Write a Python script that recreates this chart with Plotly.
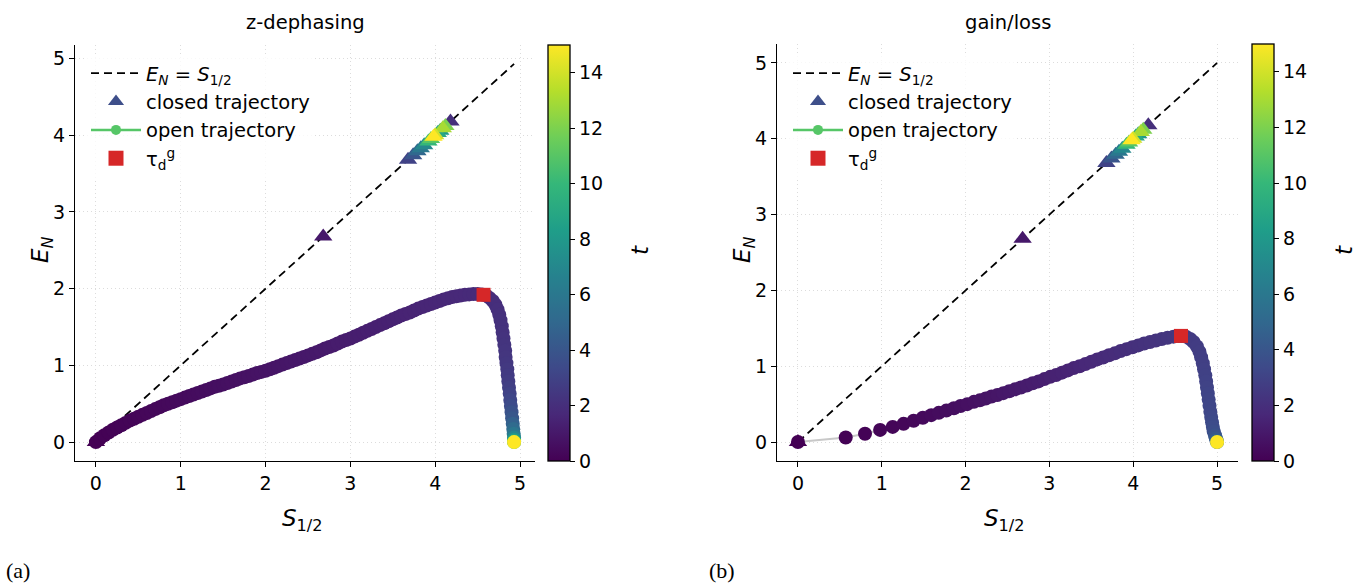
import plotly.graph_objects as go

# ---------------- data ----------------
# closed trajectory (same for both panels)
closed_t = [0, 1, 2, 3, 4, 5, 6, 7, 8, 9, 10, 11, 12, 13, 14, 15]
closed_S = [0.0, 2.68, 4.18, 3.68, 3.74, 3.79, 3.83, 3.87, 4.06, 4.03, 3.92, 3.95, 4.12, 4.09, 4.0, 3.98]

# panel (a) z-dephasing open trajectory
a_S = [0.0, 0.05, 0.10, 0.15, 0.20, 0.25, 0.30, 0.35, 0.40, 0.45, 0.50, 0.55, 0.60, 0.65, 0.70,
       0.75, 0.80, 0.85, 0.90, 0.95, 1.00, 1.05, 1.10, 1.15, 1.20, 1.25, 1.30, 1.35, 1.40, 1.45,
       1.50, 1.55, 1.60, 1.65, 1.70, 1.75, 1.80, 1.85, 1.90, 1.95, 2.00, 2.05, 2.10, 2.15, 2.20,
       2.25, 2.30, 2.35, 2.40, 2.45, 2.50, 2.55, 2.60, 2.65, 2.70, 2.75, 2.80, 2.85, 2.90, 2.95,
       3.00, 3.05, 3.10, 3.15, 3.20, 3.25, 3.30, 3.35, 3.40, 3.45, 3.50, 3.55, 3.60, 3.65, 3.70,
       3.75, 3.80, 3.85, 3.90, 3.95, 4.00, 4.05, 4.10, 4.15, 4.20, 4.25, 4.30, 4.35, 4.40, 4.45,
       4.50, 4.55,
       4.60, 4.64, 4.68, 4.71, 4.735, 4.755, 4.77, 4.785, 4.795, 4.805,
       4.815, 4.825, 4.83, 4.84, 4.85, 4.855, 4.862, 4.87, 4.878, 4.885,
       4.892, 4.90, 4.907, 4.914, 4.92, 4.925, 4.93, 4.93, 4.93, 4.93, 4.93]
a_E = [0.0, 0.05, 0.09, 0.125, 0.16, 0.19, 0.22, 0.25, 0.28, 0.305, 0.33, 0.355, 0.38, 0.405, 0.43,
       0.455, 0.48, 0.50, 0.52, 0.54, 0.56, 0.58, 0.60, 0.62, 0.64, 0.66, 0.68, 0.70, 0.72, 0.735,
       0.75, 0.77, 0.79, 0.81, 0.83, 0.845, 0.86, 0.88, 0.90, 0.915, 0.93, 0.95, 0.97, 0.99, 1.01,
       1.03, 1.05, 1.07, 1.09, 1.11, 1.13, 1.15, 1.17, 1.195, 1.22, 1.24, 1.26, 1.285, 1.31, 1.33,
       1.35, 1.375, 1.40, 1.425, 1.45, 1.475, 1.50, 1.525, 1.55, 1.575, 1.60, 1.625, 1.65, 1.67, 1.69,
       1.715, 1.74, 1.76, 1.78, 1.80, 1.82, 1.84, 1.86, 1.875, 1.89, 1.90, 1.91, 1.92, 1.925, 1.93,
       1.93, 1.925,
       1.91, 1.88, 1.84, 1.79, 1.73, 1.66, 1.59, 1.51, 1.43, 1.35,
       1.27, 1.19, 1.11, 1.03, 0.95, 0.87, 0.79, 0.71, 0.63, 0.55,
       0.47, 0.39, 0.31, 0.24, 0.17, 0.11, 0.06, 0.03, 0.01, 0.0, 0.0]
a_t = [0.0, 0.02, 0.04, 0.06, 0.08, 0.10, 0.12, 0.14, 0.16, 0.18, 0.20, 0.22, 0.24, 0.26, 0.28,
       0.30, 0.32, 0.34, 0.36, 0.38, 0.40, 0.42, 0.44, 0.46, 0.48, 0.50, 0.52, 0.54, 0.56, 0.58,
       0.60, 0.62, 0.64, 0.66, 0.68, 0.70, 0.72, 0.74, 0.76, 0.78, 0.80, 0.82, 0.84, 0.86, 0.88,
       0.90, 0.92, 0.94, 0.96, 0.98, 1.00, 1.02, 1.04, 1.06, 1.08, 1.10, 1.12, 1.14, 1.16, 1.18,
       1.20, 1.22, 1.24, 1.26, 1.28, 1.30, 1.32, 1.34, 1.36, 1.38, 1.40, 1.42, 1.44, 1.46, 1.48,
       1.50, 1.52, 1.54, 1.56, 1.58, 1.60, 1.62, 1.64, 1.66, 1.68, 1.70, 1.72, 1.74, 1.76, 1.78,
       1.80, 1.82,
       1.86, 1.90, 1.94, 1.98, 2.02, 2.06, 2.10, 2.14, 2.18, 2.22,
       2.27, 2.32, 2.38, 2.44, 2.50, 2.60, 2.70, 2.85, 3.00, 3.20,
       3.50, 3.80, 4.10, 4.60, 5.20, 5.90, 6.80, 7.80, 9.20, 11.0, 15.0]
a_tau = (4.57, 1.92)

# panel (b) gain/loss open trajectory
b_S = [0.0, 0.57, 0.80, 0.98, 1.13, 1.26, 1.38, 1.49, 1.59, 1.68, 1.77, 1.86, 1.94, 2.02, 2.10,
       2.17, 2.24, 2.31, 2.38, 2.45, 2.52, 2.59, 2.66, 2.73, 2.80, 2.87, 2.94, 3.01, 3.08, 3.15,
       3.22, 3.29, 3.36, 3.43, 3.50, 3.57, 3.64, 3.71, 3.78, 3.85, 3.92, 3.99, 4.06, 4.13, 4.20,
       4.27, 4.34, 4.41, 4.48, 4.54, 4.58,
       4.63, 4.68, 4.72, 4.76, 4.79, 4.81, 4.83, 4.845, 4.86, 4.87, 4.88, 4.89, 4.90, 4.91, 4.92,
       4.93, 4.94, 4.95, 4.96, 4.975, 4.985, 4.995, 5.0, 5.0]
b_E = [0.0, 0.06, 0.11, 0.16, 0.20, 0.24, 0.28, 0.32, 0.355, 0.385, 0.415, 0.445, 0.475, 0.50, 0.53,
       0.55, 0.575, 0.60, 0.62, 0.645, 0.67, 0.695, 0.72, 0.745, 0.775, 0.80, 0.83, 0.86, 0.885, 0.915,
       0.945, 0.975, 1.0, 1.03, 1.06, 1.09, 1.115, 1.145, 1.17, 1.20, 1.225, 1.25, 1.275, 1.30, 1.32,
       1.34, 1.36, 1.375, 1.39, 1.40, 1.40,
       1.39, 1.36, 1.32, 1.26, 1.19, 1.12, 1.04, 0.96, 0.88, 0.80, 0.72, 0.64, 0.56, 0.48, 0.40,
       0.33, 0.26, 0.20, 0.14, 0.09, 0.05, 0.02, 0.0, 0.0]
b_t = [0.0, 0.05, 0.10, 0.15, 0.20, 0.25, 0.30, 0.35, 0.40, 0.45, 0.50, 0.55, 0.60, 0.65, 0.70,
       0.75, 0.80, 0.85, 0.90, 0.95, 1.00, 1.05, 1.10, 1.15, 1.20, 1.25, 1.30, 1.35, 1.40, 1.45,
       1.50, 1.55, 1.60, 1.65, 1.70, 1.75, 1.80, 1.85, 1.90, 1.95, 2.00, 2.05, 2.10, 2.15, 2.20,
       2.25, 2.30, 2.35, 2.40, 2.45, 2.50,
       2.55, 2.60, 2.65, 2.70, 2.75, 2.80, 2.85, 2.90, 2.95, 3.00, 3.05, 3.10, 3.15, 3.20, 3.25,
       3.30, 3.40, 3.50, 3.60, 3.80, 4.10, 4.60, 6.00, 15.0]
b_tau = (4.57, 1.40)

diag_a = [0.0, 4.93]
diag_b = [0.0, 5.0]

titles = ["z-dephasing", "gain/loss"]
panel_labels = ["(a)", "(b)"]
cbar_ticks = [0, 2, 4, 6, 8, 10, 12, 14]
axis_ticks = [0, 1, 2, 3, 4, 5]

# ---------------- layout constants ----------------
W, H = 1369, 584
FONT = "DejaVu Sans"
TMIN, TMAX = 0, 15

def px(x):
    return x / W

def py(y):
    return 1 - y / H

panels = [
    dict(xd=(75, 535), yd=(45, 461), xr=[-0.2465, 5.1765], yr=[-0.2465, 5.1765],
         cb_x=548, S=a_S, E=a_E, t=a_t, tau=a_tau, diag=diag_a, leg_x=86),
    dict(xd=(777, 1238), yd=(44, 461), xr=[-0.25, 5.25], yr=[-0.25, 5.25],
         cb_x=1252, S=b_S, E=b_E, t=b_t, tau=b_tau, diag=diag_b, leg_x=788),
]

fig = go.Figure()
annotations = []
layout_axes = {}

for i, p in enumerate(panels):
    sfx = "" if i == 0 else str(i + 1)
    xa, ya = "x" + sfx, "y" + sfx
    leg = "legend" if i == 0 else "legend2"

    # dashed diagonal
    fig.add_trace(go.Scatter(
        x=p["diag"], y=p["diag"], mode="lines", xaxis=xa, yaxis=ya,
        line=dict(color="black", width=1.8, dash="8px,5px"),
        name="<i>E<sub>N</sub></i> = <i>S</i><sub>1/2</sub>", legend=leg, showlegend=True))

    # closed trajectory
    fig.add_trace(go.Scatter(
        x=closed_S, y=closed_S, mode="markers", xaxis=xa, yaxis=ya,
        marker=dict(symbol="triangle-up", size=16, color=closed_t, colorscale="Viridis",
                    cmin=TMIN, cmax=TMAX, line=dict(width=0)),
        showlegend=False, hoverinfo="skip"))

    # open trajectory: thin grey connecting line + colored markers
    fig.add_trace(go.Scatter(
        x=p["S"], y=p["E"], mode="lines", xaxis=xa, yaxis=ya,
        line=dict(color="#c8c8c8", width=2), showlegend=False, hoverinfo="skip"))
    fig.add_trace(go.Scatter(
        x=p["S"], y=p["E"], mode="markers", xaxis=xa, yaxis=ya,
        marker=dict(symbol="circle", size=14, color=p["t"], colorscale="Viridis",
                    cmin=TMIN, cmax=TMAX, line=dict(width=0),
                    showscale=True,
                    colorbar=dict(
                        x=px(p["cb_x"]), xanchor="left", xref="paper",
                        y=py(p["yd"][1]), yanchor="bottom", yref="paper",
                        len=(p["yd"][1] - p["yd"][0]) / H, lenmode="fraction",
                        thickness=22, thicknessmode="pixels",
                        xpad=0, ypad=0,
                        outlinewidth=1.3, outlinecolor="black",
                        ticks="outside", ticklen=5, tickwidth=1.2, tickcolor="black",
                        tickvals=cbar_ticks, tickfont=dict(family=FONT, size=19, color="black"),
                    )),
        showlegend=False, hoverinfo="skip"))

    # tau_d^g marker
    fig.add_trace(go.Scatter(
        x=[p["tau"][0]], y=[p["tau"][1]], mode="markers", xaxis=xa, yaxis=ya,
        marker=dict(symbol="square", size=14, color="#d62728", line=dict(width=0)),
        showlegend=False, hoverinfo="skip"))

    # legend proxies
    fig.add_trace(go.Scatter(
        x=[None], y=[None], mode="markers", xaxis=xa, yaxis=ya,
        marker=dict(symbol="triangle-up", size=14, color="#3e4f8a"),
        name="closed trajectory", legend=leg))
    fig.add_trace(go.Scatter(
        x=[None], y=[None], mode="lines+markers", xaxis=xa, yaxis=ya,
        line=dict(color="#56c667", width=2.5),
        marker=dict(symbol="circle", size=10, color="#56c667"),
        name="open trajectory", legend=leg))
    fig.add_trace(go.Scatter(
        x=[None], y=[None], mode="markers", xaxis=xa, yaxis=ya,
        marker=dict(symbol="square", size=15, color="#d62728"),
        name="τ<sub>d</sub><sup>g</sup>", legend=leg))

    axis_common = dict(
        showline=True, linecolor="black", linewidth=1.3, mirror=False,
        ticks="outside", ticklen=5, tickwidth=1.2, tickcolor="black",
        tickvals=axis_ticks, tickfont=dict(family=FONT, size=19, color="black"),
        showgrid=True, gridcolor="#dcdcdc", gridwidth=1, griddash="1px,3px",
        zeroline=False,
    )
    layout_axes["xaxis" + sfx] = dict(axis_common, domain=[px(p["xd"][0]), px(p["xd"][1])],
                                      range=p["xr"], anchor=ya)
    layout_axes["yaxis" + sfx] = dict(axis_common, domain=[py(p["yd"][1]), py(p["yd"][0])],
                                      range=p["yr"], anchor=xa)

    cx = (p["xd"][0] + p["xd"][1]) / 2
    annotations += [
        dict(text=titles[i], x=px(cx), y=py(22), xref="paper", yref="paper",
             showarrow=False, xanchor="center", yanchor="middle",
             font=dict(family=FONT, size=19.5, color="black")),
        dict(text="<i>S</i><sub>1/2</sub>", x=px(cx - 3), y=py(520), xref="paper", yref="paper",
             showarrow=False, xanchor="center", yanchor="middle",
             font=dict(family=FONT, size=23, color="black")),
        dict(text="<i>E</i><sub><i>N</i></sub>", x=px(p["xd"][0] - 33), y=py(250),
             xref="paper", yref="paper", showarrow=False, textangle=-90,
             xanchor="center", yanchor="middle",
             font=dict(family=FONT, size=23, color="black")),
        dict(text="<i>t</i>", x=px(p["cb_x"] + 92), y=py(250), xref="paper", yref="paper",
             showarrow=False, textangle=-90, xanchor="center", yanchor="middle",
             font=dict(family=FONT, size=23, color="black")),
        dict(text=panel_labels[i], x=px(4 if i == 0 else 707), y=py(570), xref="paper",
             yref="paper", showarrow=False, xanchor="left", yanchor="middle",
             font=dict(family="Liberation Serif", size=22, color="black")),
    ]

legend_common = dict(
    xref="paper", yref="paper", xanchor="left", yanchor="top",
    bgcolor="rgba(255,255,255,0.8)", borderwidth=0,
    font=dict(family=FONT, size=19.5, color="black"),
    itemwidth=50, tracegroupgap=0,
)

fig.update_layout(
    width=W, height=H,
    margin=dict(l=0, r=0, t=0, b=0),
    paper_bgcolor="white", plot_bgcolor="white",
    showlegend=True,
    legend=dict(legend_common, x=px(panels[0]["leg_x"]), y=py(54)),
    legend2=dict(legend_common, x=px(panels[1]["leg_x"]), y=py(54)),
    annotations=annotations,
    **layout_axes,
)

fig.write_html("out.html")
